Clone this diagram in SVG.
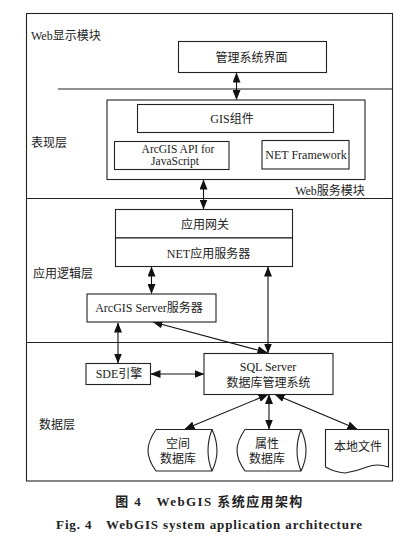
<svg xmlns="http://www.w3.org/2000/svg" width="413" height="543" viewBox="0 0 413 543">
<style>
.b{fill:#fff;stroke:#222;stroke-width:1.1}
.l{fill:none;stroke:#222;stroke-width:1.1}
.c{fill:none;stroke:#111;stroke-width:1.1;marker-start:url(#a);marker-end:url(#a)}
text{font-family:"Liberation Serif","Noto Sans CJK SC",serif;font-size:12px;fill:#222;text-anchor:middle}
.s{text-anchor:start}
.k{font-weight:bold;font-size:13px;fill:#222}
</style>
<defs>
<marker id="a" viewBox="0 0 10 8" refX="9.5" refY="4" markerWidth="10" markerHeight="8" markerUnits="userSpaceOnUse" orient="auto-start-reverse"><path d="M0,0L10,4L0,8Z" fill="#111"/></marker>
</defs>
<rect width="413" height="543" fill="#fff"/>
<g id="layers">
<rect class="l" x="26.500" y="13.500" width="366" height="467.500"/>
<path class="l" d="M58,89H392.500M26.500,198.500H392.500M26.500,342.500H392.500"/>
<text class="s" x="31" y="40">Web显示模块</text>
<text class="s" x="31" y="147">表现层</text>
<text class="s" x="33" y="278">应用逻辑层</text>
<text class="s" x="39" y="429">数据层</text>
</g>
<g id="connectors">
<path class="c" d="M236.500,73V99.500"/>
<path class="c" d="M203.500,180V209"/>
<path class="c" d="M151.500,267V293.500"/>
<path class="c" d="M268,267V353"/>
<path class="c" d="M118,323V363"/>
<path class="c" d="M151,374H204"/>
<path class="c" d="M153,322L267,352.500"/>
<path class="c" d="M268,394.500L185,429"/>
<path class="c" d="M269,394.500V429"/>
<path class="c" d="M275,394.500L357,429"/>
</g>
<g id="ui"><rect class="b" x="178.500" y="41.500" width="148" height="31"/><text x="251.500" y="62">管理系统界面</text></g>
<g id="web-service">
<rect class="b" x="107" y="100" width="258" height="79.500"/>
<text x="330" y="195">Web服务模块</text>
</g>
<g id="gis"><rect class="b" x="137.500" y="104.500" width="196" height="28"/><text x="232" y="123">GIS组件</text></g>
<g id="api"><rect class="b" x="114.500" y="141.500" width="114.500" height="28"/><text font-size="12" style="font-size:11.500px"><tspan x="178" y="153">ArcGIS API for</tspan><tspan x="175" y="165">JavaScript</tspan></text></g>
<g id="net"><rect class="b" x="262" y="140.500" width="87" height="28.500"/><text x="306" y="159">NET Framework</text></g>
<g id="gateway"><rect class="b" x="115.500" y="209.500" width="177" height="28.500"/><text x="205" y="229">应用网关</text></g>
<g id="net-server"><rect class="b" x="115.500" y="238" width="177" height="28.500"/><text x="208.500" y="258">NET应用服务器</text></g>
<g id="arcgis-server"><rect class="b" x="87" y="294" width="129" height="28"/><text x="149" y="312">ArcGIS Server服务器</text></g>
<g id="sde"><rect class="b" x="86" y="363.500" width="64.500" height="21"/><text x="119" y="378">SDE引擎</text></g>
<g id="sql"><rect class="b" x="204" y="353.500" width="129" height="41"/><text x="268" y="371">SQL Server</text><text x="268.500" y="387">数据库管理系统</text></g>
<g id="db-spatial"><path class="b" d="M156,429.500H212Q217,440 217,450.500T212,471H156Q148,460 148,450.500T156,429.500Z"/><path class="l" d="M212,429.500Q208,440 208,450.500T212,471"/><text x="178" y="448">空间</text><text x="178" y="463">数据库</text></g>
<g id="db-attr"><path class="b" d="M245,429.500H301Q306,440 306,450.500T301,471H245Q237,460 237,450.500T245,429.500Z"/><path class="l" d="M301,429.500Q297,440 297,450.500T301,471"/><text x="267" y="448">属性</text><text x="267" y="463">数据库</text></g>
<g id="doc"><path class="b" d="M325.500,429.500H388.500V467Q377,463 367,467T345,473Q334,472 325.500,467Z"/><text x="358" y="451">本地文件</text></g>
<g id="caption">
<text class="k" x="209.500" y="506" style="letter-spacing:1.400px">图 4　WebGIS 系统应用架构</text>
<text class="k" x="209.500" y="529" style="letter-spacing:.85px">Fig. 4　WebGIS system application architecture</text>
</g>
</svg>
